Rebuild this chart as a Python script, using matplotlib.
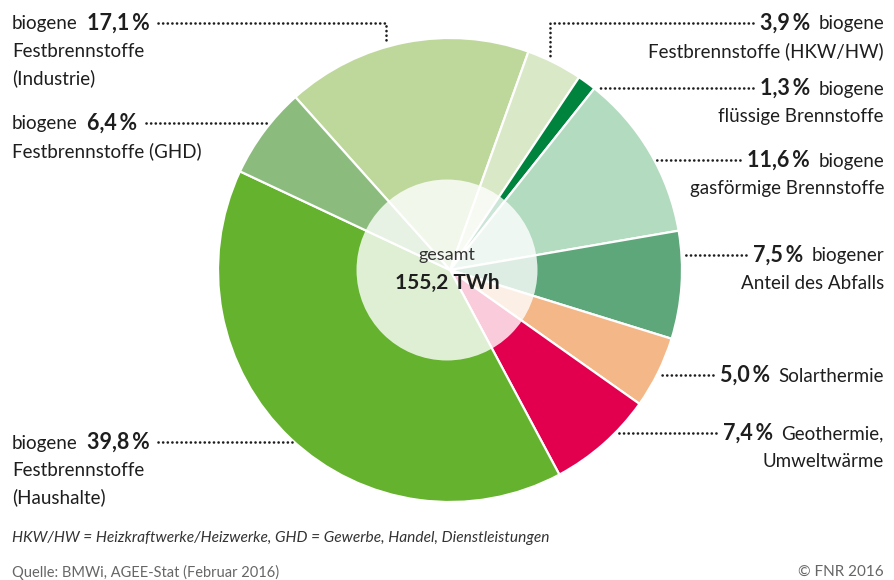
import numpy as np
import matplotlib
matplotlib.use("Agg")
import matplotlib.pyplot as plt
from matplotlib.patches import Circle

W, H = 894, 580
plt.rcParams['font.family'] = ['Lato', 'DejaVu Sans']

# data, clockwise from the top-left
shares = [17.1, 3.9, 1.3, 11.6, 7.5, 5.0, 7.4, 39.8, 6.4]
colors = ['#bed89b', '#d9e8c6', '#00843d', '#b3dbc0', '#5ea77a',
          '#f4b788', '#e2004e', '#65b22e', '#8cbb7e']
words = ['biogene', 'biogene', 'biogene', 'biogene', 'biogener',
         'Solarthermie', 'Geothermie,', 'biogene', 'biogene']
extra = [['Festbrennstoffe', '(Industrie)'], ['Festbrennstoffe (HKW/HW)'],
         ['flüssige Brennstoffe'], ['gasförmige Brennstoffe'],
         ['Anteil des Abfalls'], [], ['Umweltwärme'],
         ['Festbrennstoffe', '(Haushalte)'], ['Festbrennstoffe (GHD)']]
total = "155,2 TWh"

# layout
side = ['L', 'R', 'R', 'R', 'R', 'R', 'R', 'L', 'L']
label_y = [23, 23, 88, 160, 255, 375, 433, 442, 123]   # from top
elbow = [True, True, False, False, False, False, False, False, False]
cx, cy, r = 450, H - 270, 232
dark = '#1e1e1e'

fig = plt.figure(figsize=(W / 100, H / 100), dpi=100)
ax = fig.add_axes([0, 0, 1, 1])
wedges, _ = ax.pie(shares, colors=colors, startangle=131.8, counterclock=False,
                   center=(cx, cy), radius=r,
                   wedgeprops=dict(edgecolor='white', linewidth=1.6))
ax.set_xlim(0, W)
ax.set_ylim(0, H)
ax.axis('off')
ax.add_patch(Circle((cx - 3, cy), 0.39 * r, facecolor='white', alpha=0.8,
                    edgecolor='none', zorder=3))
ax.text(cx - 3, cy + 15, "gesamt", ha='center', va='center', fontsize=13,
        color='#333333', zorder=4)
ax.text(cx - 3, cy - 13, total, ha='center', va='center', fontsize=15,
        weight='bold', color=dark, zorder=4)

fs, fsb, lh = 13.5, 15.5, 27.5
nums = []
for i, v in enumerate(shares):
    yc = H - label_y[i]
    yb = yc - 6.5
    pct = f"{v:.1f}".replace('.', ',') + '\u2009%'
    if side[i] == 'L':
        t = ax.text(12, yb, words[i], ha='left', va='baseline', fontsize=fs, color=dark)
        n = ax.annotate(pct, xy=(1, yb), xycoords=(t, 'data'), xytext=(7, 0),
                        textcoords='offset points', ha='left', va='baseline',
                        fontsize=fsb, weight='bold', color=dark)
        for k, s in enumerate(extra[i]):
            ax.text(12, yb - lh * (k + 1), s, ha='left', va='baseline',
                    fontsize=fs, color=dark)
    else:
        t = ax.text(W - 10, yb, words[i], ha='right', va='baseline', fontsize=fs, color=dark)
        n = ax.annotate(pct, xy=(0, yb), xycoords=(t, 'data'), xytext=(-6, 0),
                        textcoords='offset points', ha='right', va='baseline',
                        fontsize=fsb, weight='bold', color=dark)
        for k, s in enumerate(extra[i]):
            ax.text(W - 10, yb - lh * (k + 1), s, ha='right', va='baseline',
                    fontsize=fs, color=dark)
    nums.append(n)

# footnotes
ax.text(12, H - 538, "HKW/HW = Heizkraftwerke/Heizwerke, GHD = Gewerbe, Handel, Dienstleistungen",
        ha='left', va='center', fontsize=11.2, style='italic', color='#333333')
ax.text(12, H - 572, "Quelle: BMWi, AGEE-Stat (Februar 2016)", ha='left', va='center',
        fontsize=10.5, color='#666666')
ax.text(W - 10, H - 572, "© FNR 2016", ha='right', va='center', fontsize=11,
        color='#666666')

# dotted leader lines, from the text to the pie edge
fig.canvas.draw()
inv = ax.transData.inverted()
for i, n in enumerate(nums):
    bb = n.get_window_extent().transformed(inv)
    yc = H - label_y[i]
    if elbow[i]:
        w = wedges[i]
        # attach a bit towards the top of the slice
        ang = np.deg2rad(w.theta1 + 0.58 * (w.theta2 - w.theta1))
        xv = cx + r * np.cos(ang)
        ye = cy + np.sqrt(r ** 2 - (xv - cx) ** 2) + 3
        x0 = bb.x1 + 8 if side[i] == 'L' else bb.x0 - 7
        xs, ys = [x0, xv, xv], [yc, yc, ye]
    else:
        dx = np.sqrt(r ** 2 - (yc - cy) ** 2)
        if side[i] == 'L':
            xs, ys = [bb.x1 + 8, cx - dx - 2], [yc, yc]
        else:
            xs, ys = [bb.x0 - 7, cx + dx + 2], [yc, yc]
    ax.plot(xs, ys, color=dark, linewidth=1.9, linestyle=(0, (0.05, 1.7)),
            dash_capstyle='round', solid_capstyle='round', zorder=5)

fig.savefig("out.png", dpi=100)
